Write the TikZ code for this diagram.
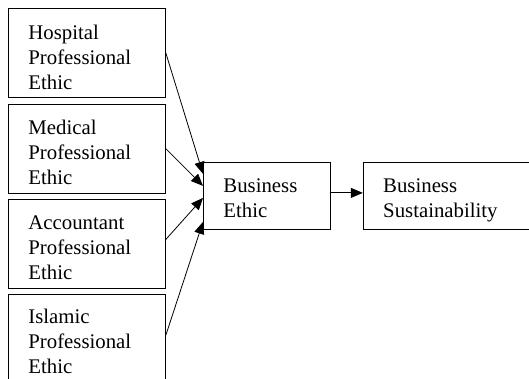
\documentclass[tikz,border=0pt]{standalone}
\usepackage{fontspec}
\setmainfont{Liberation Serif}
\usetikzlibrary{positioning,arrows.meta}

\begin{document}
\begin{tikzpicture}[x=1pt, y=1pt,
    every node/.style={font=\fontsize{20.8}{25}\selectfont},
    box/.style={draw, line width=0.8pt, align=left, anchor=north west,
      inner xsep=20pt, minimum height=89pt},
    ethicbox/.style={box, text width=117pt, text depth=42pt},
    outbox/.style={box, minimum height=67pt, text depth=21pt},
    link/.style={line width=0.8pt, -{Triangle[length=12pt, width=10pt]}}]
  \clip (0,0) rectangle (529,379);
  \node[ethicbox] (hospital) at (8,371) {Hospital\\Professional\\Ethic};
  \node[ethicbox, below=6pt of hospital.south west, anchor=north west] (medical) {Medical\\Professional\\Ethic};
  \node[ethicbox, below=5pt of medical.south west, anchor=north west] (accountant) {Accountant\\Professional\\Ethic};
  \node[ethicbox, text depth=46pt, below=6pt of accountant.south west, anchor=north west] (islamic) {Islamic\\Professional\\Ethic};
  \node[outbox, text width=87pt] (business) at (203,217) {Business\\Ethic};
  \node[outbox, text width=150pt, right=32pt of business.north east, anchor=north west] (sustain) {Business\\Sustainability};
  \draw[link] (hospital.east) -- ([yshift=22pt]business.west);
  \draw[link] (medical.east) -- ([yshift=10pt]business.west);
  \draw[link] ([yshift=4pt]accountant.east) -- ([yshift=-2pt]business.west);
  \draw[link] ([yshift=4pt]islamic.east) -- ([yshift=-26pt]business.west);
  \draw[link] ([yshift=3pt]business.east) -- ([yshift=3pt]sustain.west);
\end{tikzpicture}
\end{document}
